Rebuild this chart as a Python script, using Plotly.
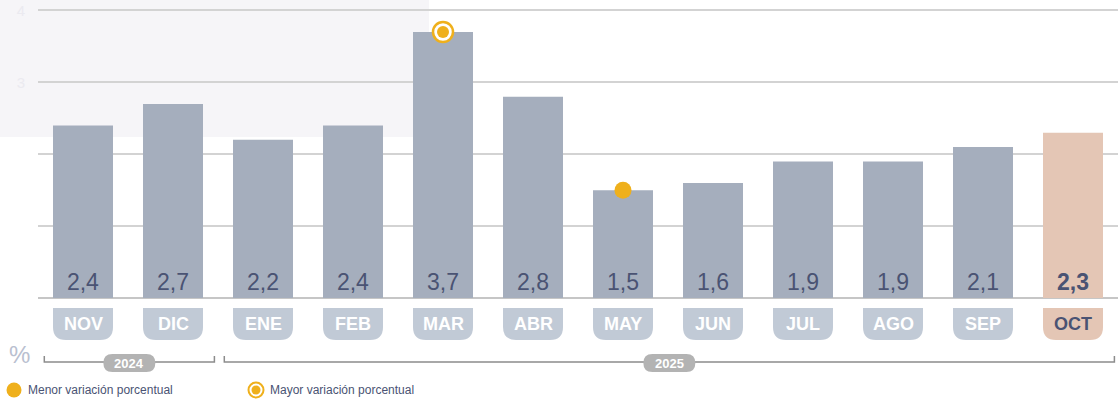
import plotly.graph_objects as go

# ---------------- data ----------------
months = ["NOV", "DIC", "ENE", "FEB", "MAR", "ABR", "MAY", "JUN", "JUL", "AGO", "SEP", "OCT"]
values = [2.4, 2.7, 2.2, 2.4, 3.7, 2.8, 1.5, 1.6, 1.9, 1.9, 2.1, 2.3]
years = ["2024", "2024", "2025", "2025", "2025", "2025", "2025", "2025", "2025", "2025", "2025", "2025"]
max_month = "MAR"
min_month = "MAY"
legend_labels = ["Menor variación porcentual", "Mayor variación porcentual"]
y_ticks = [1, 2, 3, 4]
y_ticktext = ["", "", "3", "4"]

# ---------------- style ----------------
W, H = 1118, 403
ML, MR, MT, MB = 38, 0, 9, 105
PW, PH = W - ML - MR, H - MT - MB
GRAY_BAR = "#a5aebd"
HL_BAR = "#e4c6b5"
TAB = "#c1cad6"
DARK = "#4a5373"
ORANGE = "#efb01c"
FONT = "Liberation Sans, Arial, sans-serif"

n = len(months)
x = list(range(n))
last = n - 1
bar_colors = [HL_BAR if i == last else GRAY_BAR for i in x]
templates = ["<b>%{y:.1f}</b>" if i == last else "%{y:.1f}" for i in x]

YTOP = 4.02


def py(pix):  # pixel y -> paper y
    return (H - MB - pix) / PH


def px(pix):  # pixel x -> paper x
    return (pix - ML) / PW


UX = PW / (n)  # pixels per category unit
BW = 2 / 3      # bar width in category units

fig = go.Figure()
fig.add_trace(go.Bar(
    x=x, y=values, marker=dict(color=bar_colors, line=dict(width=0)),
    width=BW, texttemplate=templates, textposition="inside",
    insidetextanchor="start", textangle=0,
    textfont=dict(family=FONT, size=23, color=DARK),
    hoverinfo="skip", showlegend=False,
))

# highlight markers
imax = months.index(max_month)
imin = months.index(min_month)
fig.add_trace(go.Scatter(
    x=[imin], y=[values[imin]], mode="markers", hoverinfo="skip", showlegend=False,
    marker=dict(symbol="circle", size=17, color=ORANGE, line=dict(width=0)),
    cliponaxis=False,
))
fig.add_trace(go.Scatter(
    x=[imax], y=[values[imax]], mode="markers", hoverinfo="skip", showlegend=False,
    marker=dict(symbol="circle", size=20, color="white", line=dict(width=2.5, color=ORANGE)),
    cliponaxis=False,
))
fig.add_trace(go.Scatter(
    x=[imax], y=[values[imax]], mode="markers", hoverinfo="skip", showlegend=False,
    marker=dict(symbol="circle", size=12, color=ORANGE, line=dict(width=0)),
    cliponaxis=False,
))

shapes = []
annotations = []

# light background panel top-left
shapes.append(dict(type="rect", xref="paper", yref="paper", x0=px(0), x1=px(429),
                   y0=py(137), y1=py(0), fillcolor="#f6f5f8", line=dict(width=0),
                   layer="below"))


def rounded_tab(xc, half, ytop, ybot, rx, ry):
    x0, x1 = xc - half, xc + half
    return (f"M {x0},{ytop} L {x1},{ytop} L {x1},{ybot + ry} "
            f"Q {x1},{ybot} {x1 - rx},{ybot} L {x0 + rx},{ybot} "
            f"Q {x0},{ybot} {x0},{ybot + ry} Z")


def pill(xc, half, yc, hh, rx):
    x0, x1 = xc - half, xc + half
    yt, yb = yc + hh, yc - hh
    return (f"M {x0 + rx},{yt} L {x1 - rx},{yt} Q {x1},{yt} {x1},{yc} Q {x1},{yb} {x1 - rx},{yb} "
            f"L {x0 + rx},{yb} Q {x0},{yb} {x0},{yc} Q {x0},{yt} {x0 + rx},{yt} Z")


def label(xv, yv, text, size, color, xref="paper", xanchor="center"):
    return dict(x=xv, y=yv, xref=xref, yref="paper", text=text, showarrow=False,
                xanchor=xanchor, yanchor="middle",
                font=dict(family=FONT, size=size, color=color))


# month tabs
tab_top, tab_bot = py(308), py(340)
for i, m in enumerate(months):
    col = HL_BAR if i == last else TAB
    shapes.append(dict(type="path", xref="x", yref="paper",
                       path=rounded_tab(i, BW / 2, tab_top, tab_bot, 13 / UX, 13 / PH),
                       fillcolor=col, line=dict(width=0)))
    annotations.append(label(i, py(324), f"<b>{m}</b>", 18,
                             DARK if i == last else "white", xref="x"))

# year brackets
groups = []
for i, yv in enumerate(years):
    if groups and groups[-1][0] == yv:
        groups[-1][2] = i
    else:
        groups.append([yv, i, i])
yb_line, yb_tick = py(362), py(356)
for yv, i0, i1 in groups:
    xa, xb = i0 - 0.43, i1 + 0.46
    shapes.append(dict(type="path", xref="x", yref="paper",
                       path=f"M {xa},{yb_tick} L {xa},{yb_line} L {xb},{yb_line} L {xb},{yb_tick}",
                       line=dict(color="#8c8c8c", width=1.5)))
    xc = (xa + xb) / 2
    shapes.append(dict(type="path", xref="x", yref="paper",
                       path=pill(xc, 26 / UX, py(363), 9 / PH, 9 / UX),
                       fillcolor="#b3b3b3", line=dict(width=0)))
    annotations.append(label(xc, py(363.5), f"<b>{yv}</b>", 13, "white", xref="x"))

# % sign
annotations.append(label(px(19), py(354), "%", 24, "#b9c0d0"))

# legend
ly = py(390)
shapes.append(dict(type="circle", xref="paper", yref="paper", xsizemode="pixel", ysizemode="pixel",
                   xanchor=px(14), yanchor=ly, x0=-7.5, x1=7.5, y0=-7.5, y1=7.5,
                   fillcolor=ORANGE, line=dict(width=0)))
shapes.append(dict(type="circle", xref="paper", yref="paper", xsizemode="pixel", ysizemode="pixel",
                   xanchor=px(256), yanchor=ly, x0=-7.5, x1=7.5, y0=-7.5, y1=7.5,
                   fillcolor="white", line=dict(width=2, color=ORANGE)))
shapes.append(dict(type="circle", xref="paper", yref="paper", xsizemode="pixel", ysizemode="pixel",
                   xanchor=px(256), yanchor=ly, x0=-4.5, x1=4.5, y0=-4.5, y1=4.5,
                   fillcolor=ORANGE, line=dict(width=0)))
for lx, lab in zip([26, 268], legend_labels):
    annotations.append(label(px(lx), ly, lab, 12, DARK, xanchor="left"))

fig.update_layout(
    width=W, height=H, margin=dict(l=ML, r=MR, t=MT, b=MB, pad=0),
    paper_bgcolor="white", plot_bgcolor="rgba(0,0,0,0)",
    separators=",.", bargap=1 / 3, showlegend=False,
    shapes=shapes, annotations=annotations,
    xaxis=dict(range=[-0.5, n - 0.5], showticklabels=False, showgrid=False,
               zeroline=False, showline=False, ticks="", fixedrange=True),
    yaxis=dict(range=[0, YTOP], tickvals=y_ticks, ticktext=y_ticktext,
               showgrid=True, gridcolor="#d3d3d3",
               gridwidth=1.6, zeroline=True, zerolinecolor="#c6c6c6", zerolinewidth=2,
               showline=False, ticks="", ticklabelstandoff=12,
               tickfont=dict(family=FONT, size=15, color="#ebeaf0"), fixedrange=True),
)

fig.write_html("out.html", config={"displayModeBar": False},
               post_script="document.body.style.margin='0px';document.body.style.overflow='hidden';")
